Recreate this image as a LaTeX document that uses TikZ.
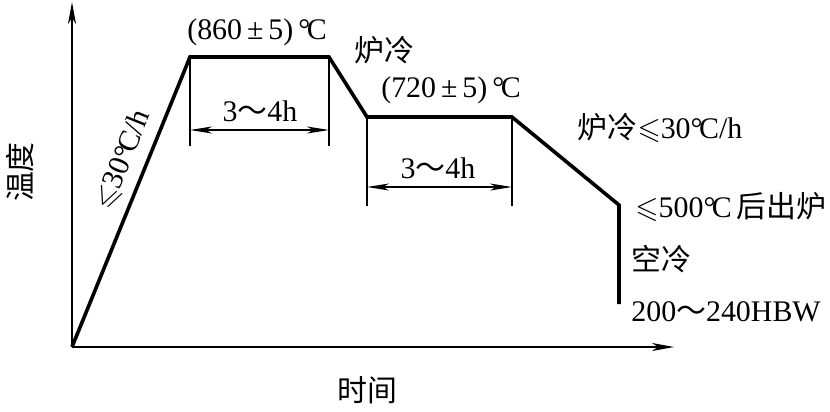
\documentclass[tikz,border=0pt]{standalone}
\usepackage{amssymb}
\usepackage{fontspec}
\setmainfont{Liberation Serif}
\newfontfamily\cjk{Noto Sans CJK SC}
\usetikzlibrary{arrows.meta}
\newcommand{\degC}{°\kern-0.12em C}
\newcommand{\leqs}{$\leqslant$}
\begin{document}
\begin{tikzpicture}[x=1bp,y=-1bp,
  curve/.style={line width=3.6bp, line join=miter},
  axis/.style={line width=2bp, -{Stealth[length=22bp,width=8bp,inset=6bp]}},
  ext/.style={line width=1.3bp},
  dim/.style={line width=1.3bp, {Stealth[length=22bp,width=7bp,inset=6bp]}-{Stealth[length=22bp,width=7bp,inset=6bp]}},
  lbl/.style={font=\fontsize{30}{32}\selectfont, inner sep=0pt}]
\path[use as bounding box, fill=white] (0,0) rectangle (830,411);
% key points
\coordinate (O) at (72,347);
\coordinate (Ytop) at (72,2);
\coordinate (Xend) at (674,347);
\coordinate (A) at (190,57);
\coordinate (B) at (329,57);
\coordinate (C) at (367,117);
\coordinate (D) at (512,117);
\coordinate (E) at (619,205);
\coordinate (F) at (619,304);
% extension and dimension points
\coordinate (A1) at (190,146);
\coordinate (B1) at (329,146);
\coordinate (C1) at (367,206);
\coordinate (D1) at (512,206);
\coordinate (Ad) at (190,130);
\coordinate (Bd) at (329,130);
\coordinate (Cd) at (367,187);
\coordinate (Dd) at (512,187);
% axes
\draw[axis] (O) -- (Ytop);
\draw[axis] (O) -- (Xend);
% process curve
\draw[curve] (O) -- (A) -- (B) -- (C) -- (D) -- (E) -- (F);
% dimensions
\draw[ext] (A) -- (A1);
\draw[ext] (B) -- (B1);
\draw[ext] (C) -- (C1);
\draw[ext] (D) -- (D1);
\draw[dim] (Ad) -- (Bd);
\draw[dim] (Cd) -- (Dd);
% labels
\node[lbl] (t860) at (257,32) {(860\,±\,5)\,\degC};
\node[lbl] (tfl1) at (384,50) {\cjk 炉冷};
\node[lbl] (t720) at (451,90) {(720\,±\,5)\,\degC};
\node[lbl] (tfl2) at (660,128) {{\cjk 炉冷}\leqs30\degC/h};
\node[lbl] (t500) at (731,207) {\leqs500\degC\,{\cjk 后出炉}};
\node[lbl] (tkl) at (661,259) {\cjk 空冷};
\node[lbl] (thbw) at (726,312) {200{\cjk ～}240HBW};
\node[lbl] (td1) at (260,111) {3{\cjk ～}4h};
\node[lbl] (td2) at (438,168) {3{\cjk ～}4h};
\node[lbl, rotate=68] (tslope) at (123,160) {\leqs30\degC/h};
\node[lbl, rotate=90] (twd) at (20,172) {\cjk 温度};
\node[lbl] (tsj) at (367,390) {\cjk 时间};
\end{tikzpicture}
\end{document}
